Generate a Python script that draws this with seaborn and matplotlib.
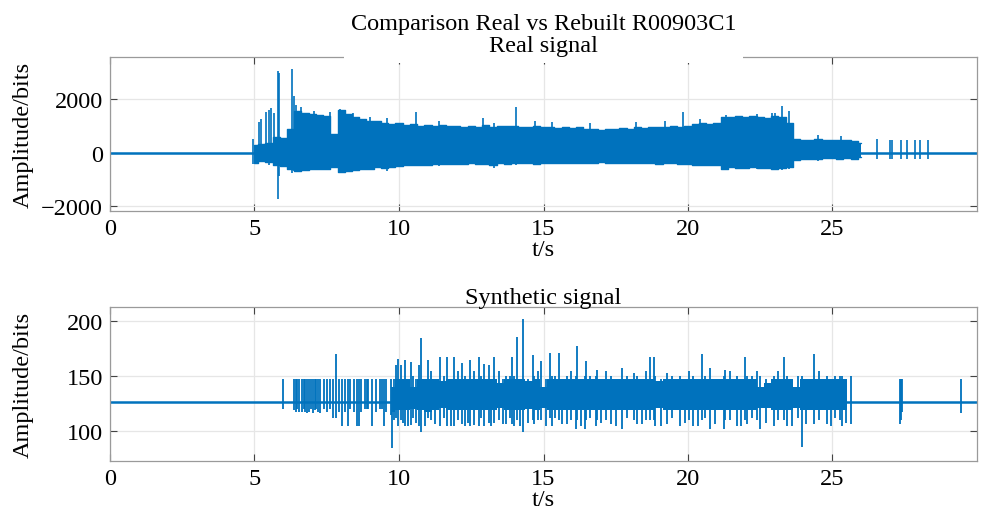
import matplotlib
matplotlib.use("Agg")
import matplotlib.pyplot as plt
import numpy as np
import pandas as pd
import seaborn as sns

# ---------------- data ----------------
# Real signal: flat baseline, dense band envelope (0.25 s bins), and tall strokes
real_base_t = [0.0, 30.0]
real_base_v = [0.0, 0.0]

real_env_t = [5.00, 5.25, 5.50, 5.75, 6.00, 6.25, 6.50, 6.75, 7.00, 7.25,
              7.50, 7.75, 8.00, 8.25, 8.50, 8.75, 9.00, 9.25, 9.50, 9.75,
              10.00, 10.25, 10.50, 10.75, 11.00, 11.25, 11.50, 11.75, 12.00, 12.25,
              12.50, 12.75, 13.00, 13.25, 13.50, 13.75, 14.00, 14.25, 14.50, 14.75,
              15.00, 15.25, 15.50, 15.75, 16.00, 16.25, 16.50, 16.75, 17.00, 17.25,
              17.50, 17.75, 18.00, 18.25, 18.50, 18.75, 19.00, 19.25, 19.50, 19.75,
              20.00, 20.25, 20.50, 20.75, 21.00, 21.25, 21.50, 21.75, 22.00, 22.25,
              22.50, 22.75, 23.00, 23.25, 23.50, 23.75, 24.00, 24.25, 24.50, 24.75,
              25.00, 25.25, 25.50, 25.75, 26.00]
real_env_hi = [300, 330, 350, 600, 550, 900, 1550, 1480, 1450, 1400,
               1380, 700, 1600, 1450, 1350, 1250, 1200, 1180, 1120, 1080,
               1100, 1050, 1080, 1020, 1040, 1000, 1030, 990, 1010, 980,
               1000, 970, 1050, 980, 1000, 990, 1020, 980, 960, 1000,
               950, 970, 940, 980, 930, 950, 900, 880, 860, 900,
               870, 920, 900, 950, 920, 960, 980, 950, 1000, 970,
               1020, 1060, 1100, 1080, 1120, 1350, 1330, 1380, 1350, 1370,
               1340, 1300, 1380, 1350, 1100, 520, 480, 470, 500, 480,
               460, 480, 470, 450, 350]
real_env_lo = [-380, -330, -360, -450, -500, -600, -700, -650, -620, -600,
               -620, -560, -720, -680, -650, -620, -600, -560, -580, -540,
               -500, -480, -470, -450, -460, -440, -430, -440, -420, -430,
               -410, -420, -430, -450, -410, -420, -400, -410, -400, -420,
               -410, -400, -390, -410, -400, -380, -390, -380, -370, -380,
               -390, -380, -400, -390, -410, -400, -420, -400, -410, -430,
               -440, -450, -460, -450, -470, -600, -560, -580, -570, -560,
               -590, -580, -600, -570, -560, -280, -250, -240, -230, -220,
               -220, -230, -220, -230, -180]

real_spk_t = [4.94, 5.14, 5.22, 5.40, 5.50, 5.58, 5.66, 5.80, 5.85, 6.29,
              6.35, 6.45, 6.60, 7.05, 7.62, 7.97, 8.05, 8.40, 9.00, 9.60,
              10.60, 11.40, 12.90, 13.30, 14.06, 14.70, 15.30, 16.60, 18.20, 19.20,
              19.83, 20.40, 21.30, 22.40, 22.90, 23.00, 23.24, 23.50, 24.50, 25.30,
              26.55, 27.00, 27.07, 27.36, 27.57, 27.85, 28.03, 28.31]
real_spk_hi = [520, 1170, 1250, 1520, 1600, 1690, 1500, 3060, 2980, 3130,
               2150, 1800, 1700, 1550, 1530, 1650, 1620, 1500, 1350, 1300,
               1530, 1200, 1290, 1100, 1720, 1200, 1150, 1120, 1150, 1200,
               1530, 1250, 1400, 1450, 1480, 1500, 1770, 1580, 650, 620,
               500, 480, 470, 480, 470, 480, 470, 480]
real_spk_lo = [-420, -300, -350, -400, -450, -350, -400, -1750, -900, -750,
               -700, -600, -650, -600, -500, -750, -700, -650, -600, -700,
               -480, -500, -430, -570, -450, -420, -400, -400, -400, -420,
               -450, -470, -620, -600, -560, -620, -650, -620, -300, -280,
               -260, -260, -260, -250, -260, -260, -250, -260]

# Synthetic signal: baseline at 127, dense core (0.25 s bins), individual strokes
syn_base_t = [0.0, 30.0]
syn_base_v = [127.0, 127.0]

syn_core_t = [9.75, 10.00, 10.25, 10.50, 10.75, 11.00, 11.25, 11.50, 11.75, 12.00,
              12.25, 12.50, 12.75, 13.00, 13.25, 13.50, 13.75, 14.00, 14.25, 14.50,
              14.75, 15.00, 15.25, 15.50, 15.75, 16.00, 16.25, 16.50, 16.75, 17.00,
              17.25, 17.50, 17.75, 18.00, 18.25, 18.50, 18.75, 19.00, 19.25, 19.50,
              19.75, 20.00, 20.25, 20.50, 20.75, 21.00, 21.25, 21.50, 21.75, 22.00,
              22.25, 22.50, 22.75, 23.00, 23.25, 23.50, 23.75, 24.00, 24.25, 24.50,
              24.75, 25.00, 25.25, 25.50]
syn_core_hi = [140, 148, 148, 140, 148, 148, 148, 146, 148, 148,
               148, 148, 148, 148, 148, 144, 148, 148, 148, 146,
               148, 140, 148, 148, 148, 148, 148, 148, 148, 148,
               148, 148, 148, 148, 148, 148, 148, 146, 148, 148,
               148, 148, 148, 148, 148, 148, 148, 148, 148, 148,
               148, 140, 144, 148, 148, 148, 140, 148, 148, 148,
               148, 148, 148, 148]
syn_core_lo = [118, 119, 119, 120, 119, 118, 119, 121, 119, 119,
               119, 119, 119, 119, 119, 121, 119, 119, 119, 120,
               119, 121, 119, 119, 119, 119, 119, 119, 119, 119,
               119, 119, 119, 119, 119, 119, 119, 121, 119, 119,
               119, 119, 119, 119, 119, 119, 119, 119, 119, 119,
               119, 121, 121, 119, 119, 119, 121, 119, 119, 119,
               119, 119, 119, 119]

syn_stroke_t = [5.97, 6.36, 6.42, 6.48, 6.55, 6.64, 6.70, 6.76, 6.82, 6.90,
                6.96, 7.02, 7.08, 7.14, 7.20, 7.26, 7.40, 7.52, 7.62, 7.72,
                7.83, 7.92, 8.02, 8.12, 8.22, 8.30, 8.45, 8.55, 8.62, 8.70,
                8.82, 8.88, 8.94, 9.05, 9.22, 9.35, 9.42, 9.48, 9.55, 9.72,
                9.76, 9.82, 9.90, 9.98, 10.08, 10.20, 10.30, 10.40, 10.60, 10.70,
                10.76, 11.00, 11.41, 11.66, 11.92, 12.18, 12.30, 12.47, 12.60, 12.76,
                12.94, 13.10, 13.28, 13.70, 13.92, 13.98, 14.07, 14.30, 14.62, 14.67,
                14.90, 15.24, 15.30, 15.53, 15.82, 16.11, 16.16, 16.45, 16.48, 16.80,
                16.85, 17.32, 17.72, 18.12, 18.24, 18.70, 18.81, 18.87, 19.27, 19.73,
                20.19, 20.48, 20.77, 21.23, 21.29, 21.69, 21.98, 22.04, 22.38, 22.50,
                22.96, 23.31, 23.42, 23.94, 24.35, 24.81, 25.27, 25.33, 25.63, 27.33,
                27.37, 27.40, 29.44,
                10.15, 10.50, 10.90, 11.10, 11.25, 11.55, 11.80, 12.05, 12.40, 12.85,
                13.20, 13.45, 13.60, 13.85, 14.20, 14.45, 14.80, 15.10, 15.40, 15.65,
                15.95, 16.30, 16.60, 17.00, 17.15, 17.50, 17.90, 18.40, 18.55, 19.05,
                19.45, 19.90, 20.05, 20.35, 20.60, 20.95, 21.45, 21.85, 22.20, 22.70,
                23.10, 23.60, 23.80, 24.10, 24.55, 24.95, 25.10, 25.45]
syn_stroke_hi = [148, 148, 148, 148, 148, 148, 148, 148, 148, 148,
                 148, 148, 148, 148, 148, 148, 148, 148, 148, 148,
                 170, 148, 148, 148, 148, 148, 148, 148, 148, 148,
                 148, 148, 148, 148, 148, 148, 148, 148, 148, 148,
                 140, 148, 160, 166, 160, 165, 148, 163, 148, 160,
                 185, 165, 168, 168, 168, 162, 150, 165, 155, 168,
                 161, 160, 168, 150, 168, 150, 186, 202, 169, 150,
                 164, 171, 150, 171, 150, 150, 178, 150, 164, 150,
                 156, 150, 158, 153, 150, 168, 168, 150, 153, 150,
                 150, 170, 158, 150, 156, 150, 168, 150, 155, 150,
                 150, 168, 150, 150, 170, 150, 150, 150, 150, 148,
                 148, 148, 148,
                 148, 150, 148, 155, 148, 150, 148, 155, 148, 150,
                 148, 155, 148, 150, 148, 148, 155, 148, 150, 148,
                 155, 148, 150, 148, 155, 148, 150, 148, 155, 148,
                 150, 148, 155, 148, 150, 148, 155, 148, 150, 148,
                 155, 148, 150, 148, 155, 148, 150, 148]
syn_stroke_lo = [120, 119, 118, 120, 118, 118, 120, 118, 117, 118,
                 120, 117, 119, 120, 118, 117, 120, 118, 120, 112,
                 112, 118, 105, 118, 105, 120, 118, 105, 105, 118,
                 120, 120, 120, 105, 118, 120, 120, 105, 118, 115,
                 85, 110, 112, 105, 110, 105, 105, 106, 108, 105,
                 99, 112, 105, 105, 105, 107, 105, 105, 106, 105,
                 105, 108, 108, 107, 107, 105, 110, 99, 110, 107,
                 110, 112, 105, 110, 107, 102, 110, 102, 110, 105,
                 110, 107, 102, 110, 107, 110, 110, 105, 107, 105,
                 105, 110, 102, 102, 110, 105, 110, 107, 110, 102,
                 105, 110, 105, 86, 107, 107, 110, 105, 107, 107,
                 110, 118, 117,
                 108, 112, 105, 110, 107, 112, 105, 110, 108, 112,
                 105, 110, 107, 112, 105, 108, 110, 105, 112, 107,
                 110, 105, 112, 108, 110, 105, 112, 107, 110, 105,
                 112, 108, 110, 105, 112, 107, 110, 105, 112, 108,
                 110, 105, 112, 107, 110, 105, 112, 108]

x_ticks = [0, 5, 10, 15, 20, 25]
real_yticks = [-2000, 0, 2000]
syn_yticks = [100, 150, 200]

# ---------------- style ----------------
BLUE = "#0072BD"
FS = 17.5
sns.set_theme(style="whitegrid")
plt.rcParams["font.family"] = ["Liberation Serif", "DejaVu Serif"]
plt.rcParams["text.color"] = "black"
plt.rcParams["axes.labelcolor"] = "black"

fig = plt.figure(figsize=(9.81, 5.10), dpi=100)
ax1 = fig.add_axes([110 / 981, 1 - 212 / 510, 867 / 981, 154 / 510])
ax2 = fig.add_axes([110 / 981, 1 - 462 / 510, 867 / 981, 154 / 510])

# ---------------- top: real signal ----------------
sns.lineplot(x=real_base_t, y=real_base_v, ax=ax1, color=BLUE, lw=1.8)
ax1.fill_between(real_env_t, real_env_lo, real_env_hi, step="mid", color=BLUE, lw=0)
sns.lineplot(x=real_env_t, y=real_env_hi, ax=ax1, color=BLUE, lw=1.0, drawstyle="steps-mid")
sns.lineplot(x=real_env_t, y=real_env_lo, ax=ax1, color=BLUE, lw=1.0, drawstyle="steps-mid")
ax1.vlines(real_spk_t, real_spk_lo, real_spk_hi, color=BLUE, lw=1.2)
ax1.set_ylim(-2200, 3600)
ax1.set_yticks(real_yticks)
ax1.set_title("Comparison Real vs Rebuilt R00903C1\nReal signal", fontsize=FS,
              pad=4, linespacing=1.1, color="black",
              bbox=dict(facecolor="white", edgecolor="none", pad=5))

# ---------------- bottom: synthetic signal ----------------
sns.lineplot(x=syn_base_t, y=syn_base_v, ax=ax2, color=BLUE, lw=1.8)
ax2.fill_between(syn_core_t, syn_core_lo, syn_core_hi, step="mid", color=BLUE, lw=0)
ax2.vlines(syn_stroke_t, syn_stroke_lo, syn_stroke_hi, color=BLUE, lw=1.3)
ax2.set_ylim(73, 213)
ax2.set_yticks(syn_yticks)
ax2.set_title("Synthetic signal", fontsize=FS, pad=3, color="black")

for ax in (ax1, ax2):
    ax.set_facecolor("white")
    ax.set_axisbelow(True)
    ax.grid(True, color="#e6e6e6", lw=0.9)
    for s in ax.spines.values():
        s.set_visible(True)
        s.set_color("#9a9a9a")
        s.set_linewidth(0.9)
    ax.tick_params(direction="in", length=5, width=0.8, color="#444444",
                   bottom=True, left=True, top=True, right=True,
                   labelsize=FS, pad=5, labelcolor="black")
    ax.set_xlim(0, 30)
    ax.set_xticks(x_ticks)
    ax.set_xlabel("t/s", fontsize=FS, labelpad=0, color="black")
    ax.set_ylabel("Amplitude/bits", fontsize=FS, color="black")
    ax.yaxis.set_label_coords(-0.088, 0.5)

fig.savefig("out.png", dpi=100, facecolor="white")
